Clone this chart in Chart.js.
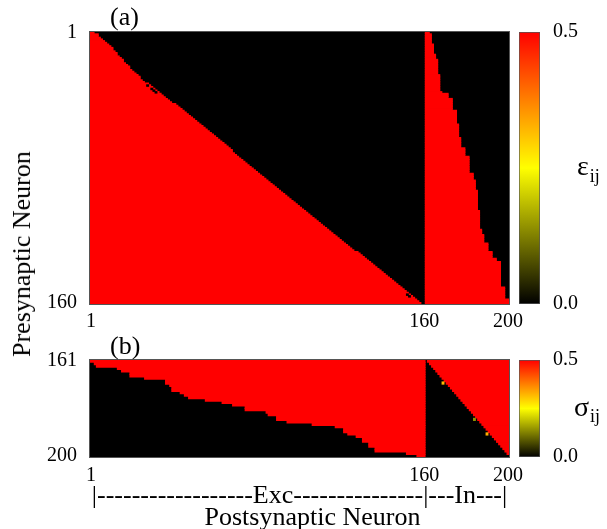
<!DOCTYPE html>
<html>
<head>
<meta charset="utf-8">
<script src="https://cdn.jsdelivr.net/npm/chart.js@4.4.1/dist/chart.umd.min.js"></script>
<style>
  html, body { margin: 0; padding: 0; background: #fff; }
  #page { position: relative; width: 607px; height: 529px; overflow: hidden;
          font-family: 'Liberation Serif', 'Times New Roman', serif; color: #000; }
  canvas { position: absolute; }
  .lbl { position: absolute; font-size: 26px; line-height: 1; white-space: nowrap; }
  #ylab { left: 22px; top: 254px; transform: translate(-50%, -50%) rotate(-90deg); }
</style>
</head>
<body>
<div id="page">
  <canvas id="matA" width="607" height="335" style="left:0;top:0"></canvas>
  <canvas id="matB" width="607" height="194" style="left:0;top:335px"></canvas>
  <canvas id="barA" width="92" height="335" style="left:515px;top:0"></canvas>
  <canvas id="barB" width="92" height="194" style="left:515px;top:335px"></canvas>
  <div class="lbl" style="left:110px;top:4px">(a)</div>
  <div class="lbl" style="left:110px;top:333px">(b)</div>
  <div class="lbl" id="ylab">Presynaptic Neuron</div>
</div>
<script>
// coupling matrix: row = presynaptic neuron, column = postsynaptic neuron
const nExc = 160;
const nAll = 200;
const wMax = 0.5;

const xTicks = [1, 160, 200];
const yTicksA = ["1", "160"];
const yTicksB = ["161", "200"];
const cbTicks = [0, 0.5];

// (a) excitatory presynaptic rows 1..160
const rowsA = Array.from({ length: nExc }, (_, k) => String(k + 1));
// last potentiated Exc column in each row
const excEdgeA = [
  2, 4, 4, 5, 6, 7, 8, 9, 10, 11,
  11, 12, 13, 13, 14, 15, 16, 16, 17, 18,
  19, 19, 20, 21, 22, 23, 24, 24, 25, 26,
  28, 29, 30, 31, 32, 33, 34, 35, 36, 37,
  38, 39, 41, 42, 43, 44, 45, 46, 47, 48,
  49, 50, 51, 52, 53, 54, 55, 56, 57, 58,
  59, 60, 61, 62, 63, 64, 65, 66, 67, 68,
  68, 69, 70, 71, 72, 73, 74, 75, 76, 77,
  78, 79, 80, 81, 82, 83, 84, 85, 86, 87,
  88, 89, 90, 91, 92, 93, 94, 95, 96, 97,
  98, 99, 100, 101, 102, 103, 104, 105, 106, 107,
  108, 109, 110, 111, 112, 113, 114, 115, 116, 117,
  118, 119, 120, 121, 122, 123, 124, 125, 126, 128,
  129, 130, 131, 132, 133, 134, 135, 136, 137, 138,
  139, 140, 141, 142, 143, 144, 145, 146, 147, 148,
  149, 150, 151, 152, 153, 154, 155, 156, 157, 158
];
// last potentiated Inh column: [first row of run, column]
const inhRunsA = [
  [1, 162], [2, 163], [8, 164], [14, 165], [17, 166], [26, 167], [36, 168],
  [37, 171], [40, 173], [47, 175], [55, 176], [63, 177], [69, 179], [74, 181],
  [84, 183], [88, 184], [94, 185], [106, 186], [117, 187], [120, 188],
  [125, 190], [130, 192], [134, 194], [136, 196], [151, 198], [158, 200]
];
// depressed cells left inside the potentiated block [row, col]
const excGapsA = [[32, 28], [34, 30], [35, 31], [36, 32], [155, 152], [156, 153]];

// (b) inhibitory presynaptic rows 161..200
const rowsB = Array.from({ length: nAll - nExc }, (_, k) => String(k + nExc + 1));
// first potentiated Exc column in each row
const excStartB = [
  1, 3, 4, 14, 16, 20, 20, 27, 37, 37,
  39, 40, 40, 44, 46, 48, 56, 64, 69, 75,
  75, 85, 86, 90, 90, 95, 107, 118, 122, 122,
  124, 128, 131, 131, 134, 134, 137, 137, 152, 157
];
// first potentiated Inh column in each row
const inhStartB = [
  162, 163, 164, 165, 166, 167, 168, 169, 170, 171,
  172, 173, 174, 175, 176, 177, 178, 179, 180, 181,
  182, 183, 184, 185, 186, 187, 188, 189, 190, 191,
  192, 193, 194, 195, 196, 197, 198, 199, 200, null
];
// isolated intermediate weights [row, col, sigma]
const sigmaDotsB = [[170, 169, 0.32], [185, 184, 0.14], [191, 190, 0.33]];

// black -> yellow -> red
function cmap(v) {
  const t = Math.max(0, Math.min(1, v / wMax));
  if (t < 0.5) {
    const c = Math.round(510 * t);
    return `rgb(${c},${c},0)`;
  }
  return `rgb(255,${Math.round(510 * (1 - t))},0)`;
}

function expandRuns(runs, n) {
  const out = [];
  for (let r = 1; r <= n; r++) {
    let col = null;
    for (const [start, c] of runs) if (start <= r) col = c;
    out.push(col);
  }
  return out;
}

Chart.defaults.font.family = "'Liberation Serif', 'Times New Roman', serif";
Chart.defaults.font.size = 20;
Chart.defaults.color = "#000";

const frame = {
  id: "frame",
  beforeDatasetsDraw(chart) {
    const { ctx, chartArea: a } = chart;
    ctx.save();
    ctx.fillStyle = cmap(0);
    ctx.fillRect(a.left, a.top, a.width, a.height);
    ctx.restore();
  },
  afterDatasetsDraw(chart) {
    const { ctx, chartArea: a } = chart;
    ctx.save();
    ctx.strokeStyle = "#555";
    ctx.lineWidth = 1;
    ctx.strokeRect(a.left - 0.5, a.top - 0.5, a.width + 1, a.height + 1);
    ctx.restore();
  }
};

function matrixOptions(rows, yTicks, padTop, xHeight, xPad, title) {
  return {
    indexAxis: "y",
    responsive: false,
    animation: false,
    layout: { padding: { top: padTop, right: 98, left: 0, bottom: 0 } },
    datasets: {
      bar: { barPercentage: 1, categoryPercentage: 1, grouped: false,
             borderWidth: 0, inflateAmount: 0.4 }
    },
    plugins: { legend: { display: false }, tooltip: { enabled: false } },
    scales: {
      x: {
        type: "linear",
        min: 0.5,
        max: nAll + 0.5,
        grid: { display: false, drawTicks: false },
        border: { display: false },
        ticks: { padding: xPad, maxRotation: 0, autoSkip: false },
        afterBuildTicks: s => { s.ticks = xTicks.map(v => ({ value: v })); },
        afterFit: s => { s.height = xHeight; s.paddingLeft = 0; s.paddingRight = 0; },
        title: title
      },
      y: {
        grid: { display: false, drawTicks: false },
        border: { display: false },
        ticks: {
          autoSkip: false,
          padding: 13,
          callback: (v, i) => (yTicks.includes(rows[i]) ? rows[i] : "")
        },
        afterFit: s => { s.width = 90; s.paddingTop = 0; s.paddingBottom = 0; }
      }
    }
  };
}

// panel (a)
new Chart(document.getElementById("matA"), {
  type: "bar",
  data: {
    labels: rowsA,
    datasets: [
      { data: excGapsA.map(([r, c]) => ({ y: String(r), x: [c - 0.5, c + 0.5] })),
        backgroundColor: cmap(0) },
      { data: excEdgeA.map(e => [0.5, e + 0.5]), backgroundColor: cmap(wMax) },
      { data: expandRuns(inhRunsA, nExc).map(e => [nExc + 0.5, e + 0.5]),
        backgroundColor: cmap(wMax) }
    ]
  },
  options: matrixOptions(rowsA, yTicksA, 32, 31, 6, { display: false }),
  plugins: [frame]
});

// panel (b)
new Chart(document.getElementById("matB"), {
  type: "bar",
  data: {
    labels: rowsB,
    datasets: [
      { data: sigmaDotsB.map(([r, c, v]) => ({ y: String(r), x: [c - 0.5, c + 0.5], v: v })),
        backgroundColor: ctx => cmap(ctx.raw ? ctx.raw.v : 0) },
      { data: excStartB.map(s => [s - 0.5, nExc + 0.5]), backgroundColor: cmap(wMax) },
      { data: inhStartB.map(s => (s == null ? null : [s - 0.5, nAll + 0.5])),
        backgroundColor: cmap(wMax) }
    ]
  },
  options: matrixOptions(rowsB, yTicksB, 25, 72, 7, {
    display: true,
    text: ["|------------------Exc---------------|---In---|", "    Postsynaptic Neuron"],
    font: { size: 26, lineHeight: 0.85 },
    padding: { top: 0, bottom: 0 }
  }),
  plugins: [frame]
});

// colour scales
function colorbar(id, padTop, padBottom, symbol, symX) {
  const label = {
    id: "symbolLabel",
    afterDraw(chart) {
      const { ctx, chartArea: a } = chart;
      const cy = (a.top + a.bottom) / 2;
      ctx.save();
      ctx.fillStyle = "#000";
      ctx.textBaseline = "middle";
      ctx.font = "28px 'Liberation Serif', serif";
      ctx.fillText(symbol, a.right + symX, cy);
      const w = ctx.measureText(symbol).width;
      ctx.font = "18px 'Liberation Serif', serif";
      ctx.fillText("ij", a.right + symX + w + 1, cy + 9);
      ctx.restore();
    }
  };
  new Chart(document.getElementById(id), {
    type: "bar",
    data: {
      labels: ["w"],
      datasets: [{
        data: [[cbTicks[0], cbTicks[cbTicks.length - 1]]],
        barPercentage: 1,
        categoryPercentage: 1,
        borderWidth: 1,
        borderColor: "#555",
        borderSkipped: false,
        backgroundColor: ctx => {
          const a = ctx.chart.chartArea;
          if (!a) return null;
          const g = ctx.chart.ctx.createLinearGradient(0, a.bottom, 0, a.top);
          [0, 0.25, 0.5, 0.75, 1].forEach(t => g.addColorStop(t, cmap(t * wMax)));
          return g;
        }
      }]
    },
    options: {
      responsive: false,
      animation: false,
      layout: { padding: { left: 4, top: padTop, bottom: padBottom, right: 0 } },
      plugins: { legend: { display: false }, tooltip: { enabled: false } },
      scales: {
        x: { display: false },
        y: {
          position: "right",
          min: cbTicks[0],
          max: cbTicks[cbTicks.length - 1],
          grid: { display: false, drawTicks: false },
          border: { display: false },
          ticks: { padding: 13, callback: v => v.toFixed(1) },
          afterBuildTicks: s => { s.ticks = cbTicks.map(v => ({ value: v })); },
          afterFit: s => { s.width = 67; s.paddingTop = 0; s.paddingBottom = 0; }
        }
      }
    },
    plugins: [label]
  });
}

colorbar("barA", 32, 31, "\u03b5", 37);
colorbar("barB", 25, 72, "\u03c3", 34);
</script>
</body>
</html>
